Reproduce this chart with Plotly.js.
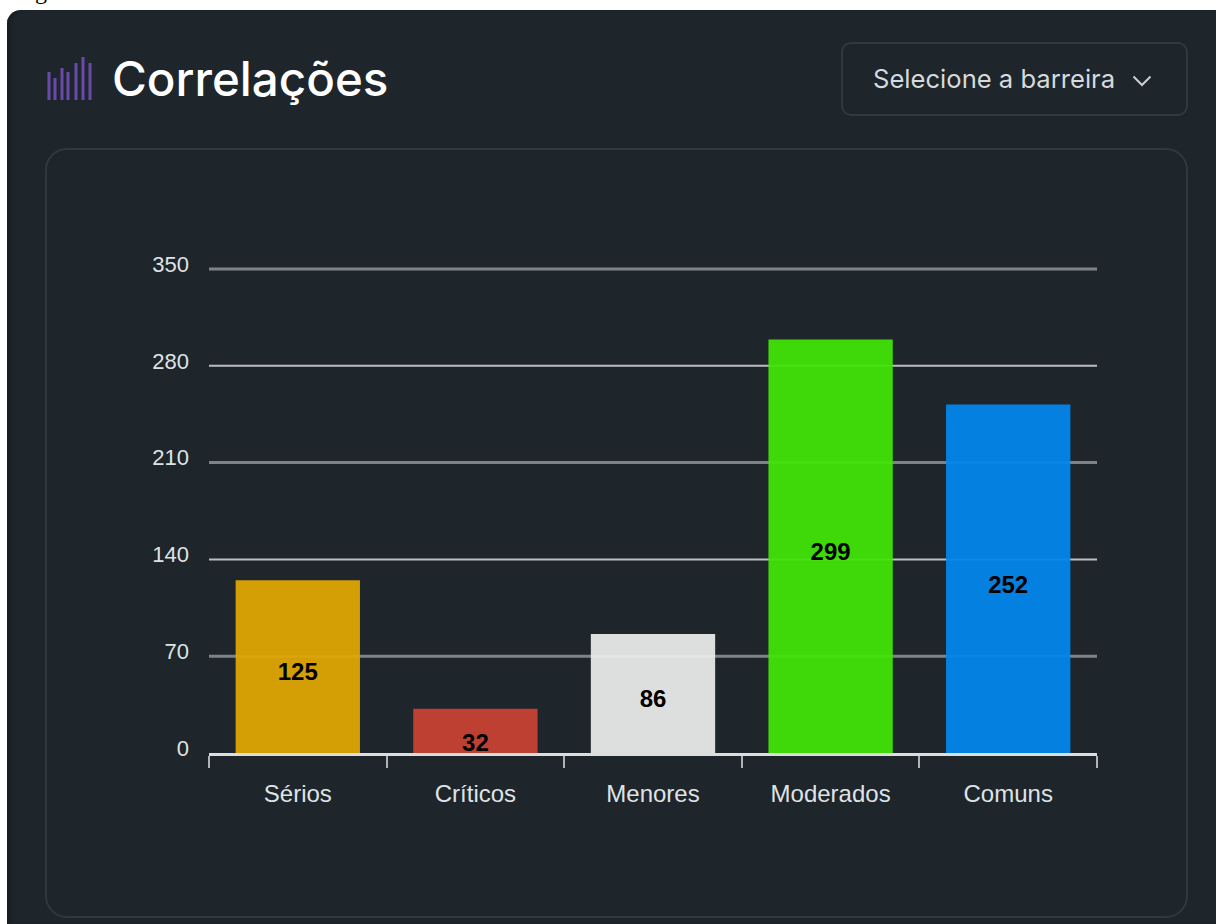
<!DOCTYPE html>
<html lang="pt">
<head>
<meta charset="utf-8">
<title>Correlações</title>
<script src="https://cdn.plot.ly/plotly-3.0.1.min.js"></script>
<style>
  html, body { margin: 0; padding: 0; background: #fff; width: 1216px; height: 924px; overflow: hidden; }
  #caption { position: absolute; left: 15px; top: -22px; font: 24px "Liberation Serif", serif; color: #000; }
  #page { position: absolute; left: 7px; top: 10px; width: 1209px; height: 914px; background: #1e252b;
          border-top-left-radius: 14px; box-shadow: inset 6px 0 4px -3px #171c20; }
  #heading { position: absolute; left: 112px; top: 49px; font: 500 47.5px Inter, sans-serif; color: #fff; line-height: 60px; }
  #icon { position: absolute; left: 47px; top: 57px; }
  #picker { position: absolute; left: 841px; top: 42px; width: 347px; height: 74px; box-sizing: border-box;
            border: 2px solid #31393f; border-radius: 10px; }
  #picker span { position: absolute; left: 30px; top: 20px; font: 400 25.6px Inter, sans-serif; line-height: 29px; color: #d5dadd; white-space: nowrap; }
  #picker svg { position: absolute; left: 289px; top: 31px; }
  #panel { position: absolute; left: 45px; top: 148px; width: 1143px; height: 770px; box-sizing: border-box;
           border: 2px solid #31393f; border-radius: 22px; }
  #chart { position: absolute; left: 0; top: 0; width: 1216px; height: 924px; }
</style>
</head>
<body>
<div id="caption">Figura</div>
<div id="page"></div>
<svg id="icon" width="46" height="44" viewBox="0 0 46 44">
  <g stroke="#6a4aa8" stroke-width="3">
    <line x1="2" y1="15" x2="2" y2="43"/>
    <line x1="8" y1="21" x2="8" y2="43"/>
    <line x1="15" y1="11" x2="15" y2="43"/>
    <line x1="21" y1="15" x2="21" y2="43"/>
    <line x1="29" y1="6" x2="29" y2="43"/>
    <line x1="36" y1="0" x2="36" y2="43"/>
    <line x1="43" y1="6" x2="43" y2="43"/>
  </g>
</svg>
<div id="heading">Correlações</div>
<div id="picker">
  <span>Selecione a barreira</span>
  <svg width="20" height="12" viewBox="0 0 20 12"><path d="M1.5 1.5 L10 10 L18.5 1.5" fill="none" stroke="#c9ced1" stroke-width="2"/></svg>
</div>
<div id="panel"></div>
<div id="chart"></div>
<script>
  // Barrier counts by severity group
  const categories = ['Sérios', 'Críticos', 'Menores', 'Moderados', 'Comuns'];
  const counts = [125, 32, 86, 299, 252];
  const barColors = ['#dea503', '#c74134', '#e8e9e8', '#41e307', '#0385ea'];
  const yTicks = [0, 70, 140, 210, 280, 350];

  // Count labels sit just below each bar's midpoint; the short bar's label drops further
  const labelDrop = [5.7, 10.2, 5.7, 5.7, 5.7];
  const labelHeights = counts.map((v, i) => v / 2 - labelDrop[i]);

  // Horizontal guides, one per nonzero tick, alternating heavy and light strokes
  const guides = yTicks.filter(t => t > 0).map((t, i) => ({
    type: 'line',
    layer: 'below',
    xref: 'paper',
    yref: 'y',
    x0: 0,
    x1: 1,
    y0: t,
    y1: t,
    line: i % 2 === 0 ? { color: '#808385', width: 3 } : { color: '#bcbebf', width: 2 }
  }));

  const bars = {
    type: 'bar',
    x: categories,
    y: counts,
    marker: { color: barColors, opacity: 0.95 },
    hoverinfo: 'x+y'
  };
  const valueLabels = {
    type: 'scatter',
    mode: 'text',
    x: categories,
    y: labelHeights,
    text: counts.map(String),
    textposition: 'middle center',
    textfont: { family: 'Liberation Sans, Arial, sans-serif', size: 24, color: '#000', weight: 700 },
    cliponaxis: true,
    hoverinfo: 'skip'
  };

  const layout = {
    width: 1216,
    height: 924,
    margin: { l: 209, r: 119, t: 266, b: 171, pad: 0 },
    paper_bgcolor: 'rgba(0,0,0,0)',
    plot_bgcolor: 'rgba(0,0,0,0)',
    showlegend: false,
    bargap: 0.3,
    shapes: guides,
    font: { family: 'Liberation Sans, Arial, sans-serif', size: 22, color: '#dfe3e6' },
    xaxis: {
      type: 'category',
      tickson: 'boundaries',
      ticks: 'outside',
      ticklen: 12,
      tickwidth: 2,
      tickcolor: '#b0b2b3',
      showline: true,
      linecolor: '#dcdddd',
      linewidth: 3,
      showgrid: false,
      zeroline: false,
      ticklabelstandoff: 17,
      tickfont: { size: 24, color: '#dfe3e6' }
    },
    yaxis: {
      // A little headroom above 350 keeps the top guide's full stroke inside the plot area
      range: [0, 352.17],
      tickmode: 'array',
      tickvals: yTicks,
      ticktext: yTicks.map(String),
      ticks: '',
      showline: false,
      showgrid: false,
      zeroline: false,
      ticklabelstandoff: 19,
      ticklabelshift: -5,
      tickfont: { size: 22, color: '#dfe3e6' }
    }
  };

  Plotly.newPlot('chart', [bars, valueLabels], layout, { displayModeBar: false, staticPlot: true });
</script>
</body>
</html>
